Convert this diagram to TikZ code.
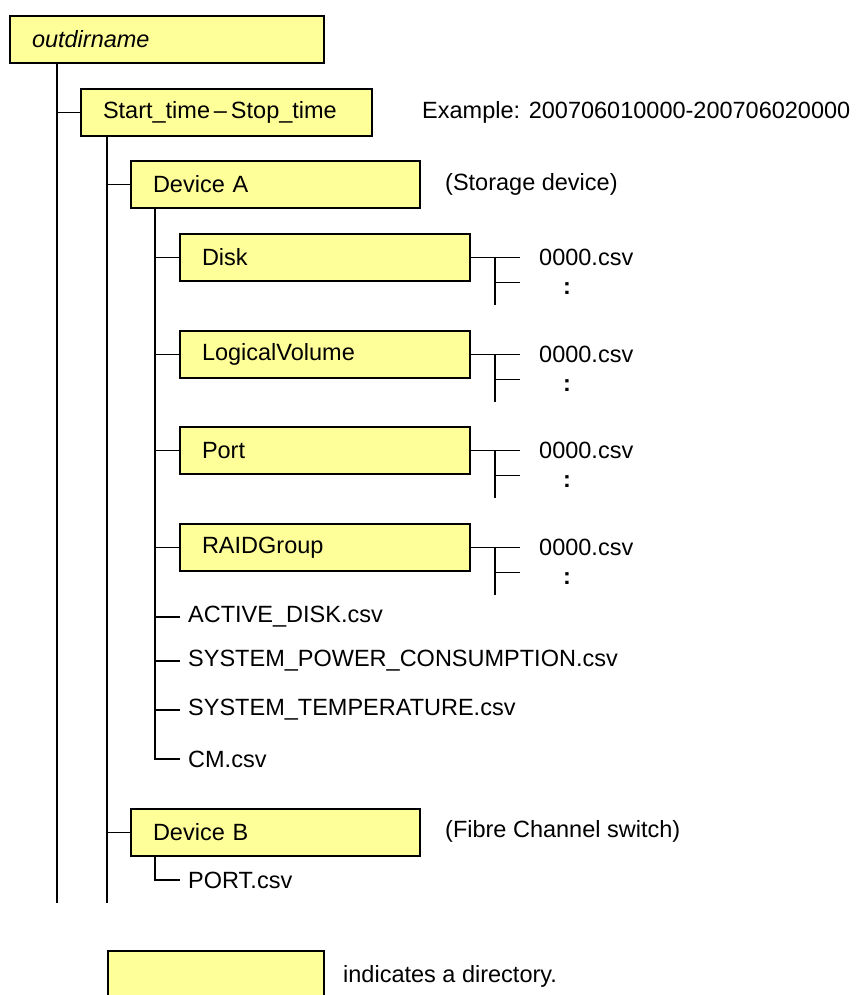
\documentclass[tikz,border=0pt]{standalone}
\usepackage{fontspec}
\setmainfont{Liberation Sans}
\definecolor{dirfill}{HTML}{FFFF99}
\begin{document}
\begin{tikzpicture}[x=1pt,y=-1pt,
  font=\fontsize{23.5}{27}\selectfont,
  dirbox/.style={draw=black, line width=2pt, fill=dirfill, anchor=north west,
    minimum height=47pt, inner xsep=22pt, inner ysep=0pt, text width=#1, align=left},
  tree/.style={line width=1.6pt, black},
  lbl/.style={anchor=west, inner sep=0pt},
  dots/.style={inner sep=0pt, font=\fontsize{23.5}{27}\selectfont\bfseries}]
\useasboundingbox (0,0) rectangle (861,995);

% directories
\node[dirbox=270pt] (root) at (9,15) {\itshape outdirname};
\node[dirbox=247pt] (start) at (80,88) {Start\_time\,--\,Stop\_time};
\node[dirbox=245pt] (devA) at (130,160) {Device A};
\node[dirbox=246pt] (disk) at (179,233) {Disk};
\node[dirbox=246pt] (lv) at (179,330) {LogicalVolume};
\node[dirbox=246pt] (port) at (179,426) {Port};
\node[dirbox=246pt] (raid) at (179,523) {RAIDGroup};
\node[dirbox=245pt] (devB) at (130,808) {Device B};

% annotations
\node[lbl] (ex) at (422,112) {Example: 200706010000-200706020000};
\node[lbl] (sd) at (445,184) {(Storage device)};
\node[lbl] (fc) at (445,831) {(Fibre Channel switch)};

% files
\node[lbl] (f1) at (188,617) {ACTIVE\_DISK.csv};
\node[lbl] (f2) at (188,661) {SYSTEM\_POWER\_CONSUMPTION.csv};
\node[lbl] (f3) at (188,710) {SYSTEM\_TEMPERATURE.csv};
\node[lbl] (f4) at (188,759) {CM.csv};
\node[lbl] (f5) at (188,880) {PORT.csv};

% tree trunks
\coordinate (rootEnd) at (57,903);
\coordinate (startEnd) at (107,903);
\coordinate (aX) at (155,0);
\draw[tree] (root.south -| rootEnd) -- (rootEnd);
\draw[tree] (start.west -| rootEnd) -- (start.west);
\draw[tree] (start.south -| startEnd) -- (startEnd);
\draw[tree] (devA.west -| startEnd) -- (devA.west);
\draw[tree] (devB.west -| startEnd) -- (devB.west);
\draw[tree] (devA.south -| aX) -- (f4.west -| aX) -- ([xshift=-8pt]f4.west);
\foreach \d in {disk,lv,port,raid}{
  \draw[tree] (\d.west -| aX) -- (\d.west);
}
\foreach \f in {f1,f2,f3}{
  \draw[tree] (\f.west -| aX) -- ([xshift=-8pt]\f.west);
}
\draw[tree] (devB.south -| aX) -- (f5.west -| aX) -- ([xshift=-8pt]f5.west);

% csv children of the four subdirectories
\foreach \d/\n in {disk/a,lv/b,port/c,raid/d}{
  \coordinate (c\n) at ([xshift=49pt]\d.east);
  \coordinate (v\n) at ([xshift=24pt]\d.east);
  \coordinate (w\n) at ([xshift=24pt,yshift=-25pt]\d.east);
  \coordinate (u\n) at ([xshift=24pt,yshift=-47pt]\d.east);
  \coordinate (h\n) at ([xshift=49pt,yshift=-25pt]\d.east);
  \node[lbl] (csv\n) at ([xshift=68pt]\d.east) {0000.csv};
  \node[dots] (dot\n) at ([xshift=96pt,yshift=-31pt]\d.east) {:};
  \draw[tree] (\d.east) -- (c\n);
  \draw[tree] (v\n) -- (u\n);
  \draw[tree] (w\n) -- (h\n);
}

% legend
\node[dirbox=172pt] (leg) at (107,950) {};
\node[lbl] (legt) at (343,976) {indicates a directory.};
\end{tikzpicture}
\end{document}
